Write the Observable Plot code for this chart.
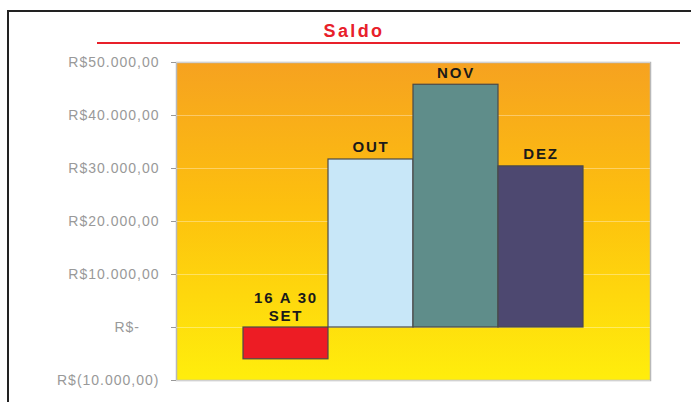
<!DOCTYPE html>
<html>
<head>
<meta charset="utf-8">
<script src="https://cdn.jsdelivr.net/npm/d3@7"></script>
<script src="https://cdn.jsdelivr.net/npm/@observablehq/plot@0.6"></script>
<style>
  html, body { margin: 0; padding: 0; background: #fff; overflow: hidden; }
  #wrap { position: relative; width: 691px; height: 402px; overflow: hidden; }
  #border { position: absolute; left: 7px; top: 10px; width: 720px; height: 420px; border: 2px solid #222; box-sizing: border-box; }
  #title { position: absolute; left: 0; width: 706px; top: 21px; padding-left: 2px; box-sizing: border-box; text-align: center; font: bold 18px "Liberation Sans", Arial, sans-serif; letter-spacing: 2.4px; color: #E8202A; }
  #rule { position: absolute; left: 97px; width: 583px; top: 42px; height: 2px; background: #E8202A; }
  #chart { position: absolute; left: 0; top: 0; }
</style>
</head>
<body>
<div id="wrap">
  <div id="border"></div>
  <div id="title">Saldo</div>
  <div id="rule"></div>
  <div id="chart"></div>
</div>
<script>
const categories = ["16 A 30\nSET", "OUT", "NOV", "DEZ"];
const values = [-6000, 31700, 45800, 30400];
const barColors = ["#ED1C24", "#C8E7F8", "#5F8D8A", "#4D4870"];
const yTicks = [-10000, 0, 10000, 20000, 30000, 40000, 50000];
const yTickLabels = ["R$(10.000,00)", "R$-\u00a0\u00a0\u00a0\u00a0", "R$10.000,00", "R$20.000,00", "R$30.000,00", "R$40.000,00", "R$50.000,00"];

const data = categories.map((c, i) => ({cat: c, value: values[i], color: barColors[i]}));

const chart = Plot.plot({
  width: 691,
  height: 402,
  marginLeft: 176,
  marginRight: 41,
  marginTop: 62,
  marginBottom: 22,
  style: {fontFamily: "'Liberation Sans', Arial, sans-serif", background: "transparent", overflow: "visible"},
  x: {domain: categories, axis: null, paddingInner: 0, paddingOuter: 0.756},
  y: {domain: [-10000, 50000]},
  color: {type: "identity"},
  marks: [
    Plot.frame({fill: "url(#bgGrad)", stroke: "#b8b8b8", strokeWidth: 1.5}),
    Plot.gridY(yTicks, {stroke: "#ffffff", strokeOpacity: 0.35, strokeWidth: 1}),
    Plot.axisY({
      ticks: yTicks,
      tickFormat: v => yTickLabels[yTicks.indexOf(v)],
      tickSize: 5,
      tickPadding: 12,
      color: "#999999",
      fontSize: 14,
      label: null
    }),
    Plot.barY(data, {x: "cat", y: "value", fill: "color", stroke: "#4a4a4a", strokeWidth: 1.2}),
    Plot.text(data, {
      x: "cat",
      y: d => Math.max(0, d.value),
      text: "cat",
      dy: -7,
      lineAnchor: "bottom",
      lineHeight: 1.15,
      fontWeight: "bold",
      fontSize: 15,
      fill: "#1a1a1a"
    })
  ]
});

chart.insertAdjacentHTML("afterbegin",
  '<defs><linearGradient id="bgGrad" x1="0" y1="0" x2="0" y2="1">' +
  '<stop offset="0" stop-color="#F6A220"/>' +
  '<stop offset="0.45" stop-color="#FDC00E"/>' +
  '<stop offset="1" stop-color="#FFEE0C"/>' +
  '</linearGradient></defs>');

chart.querySelectorAll("text").forEach(t => {
  if (t.closest("[aria-label='text']")) t.setAttribute("letter-spacing", "1.8");
  if (t.closest("[aria-label='y-axis tick label']")) t.setAttribute("letter-spacing", "1");
});

document.getElementById("chart").appendChild(chart);
</script>
</body>
</html>
